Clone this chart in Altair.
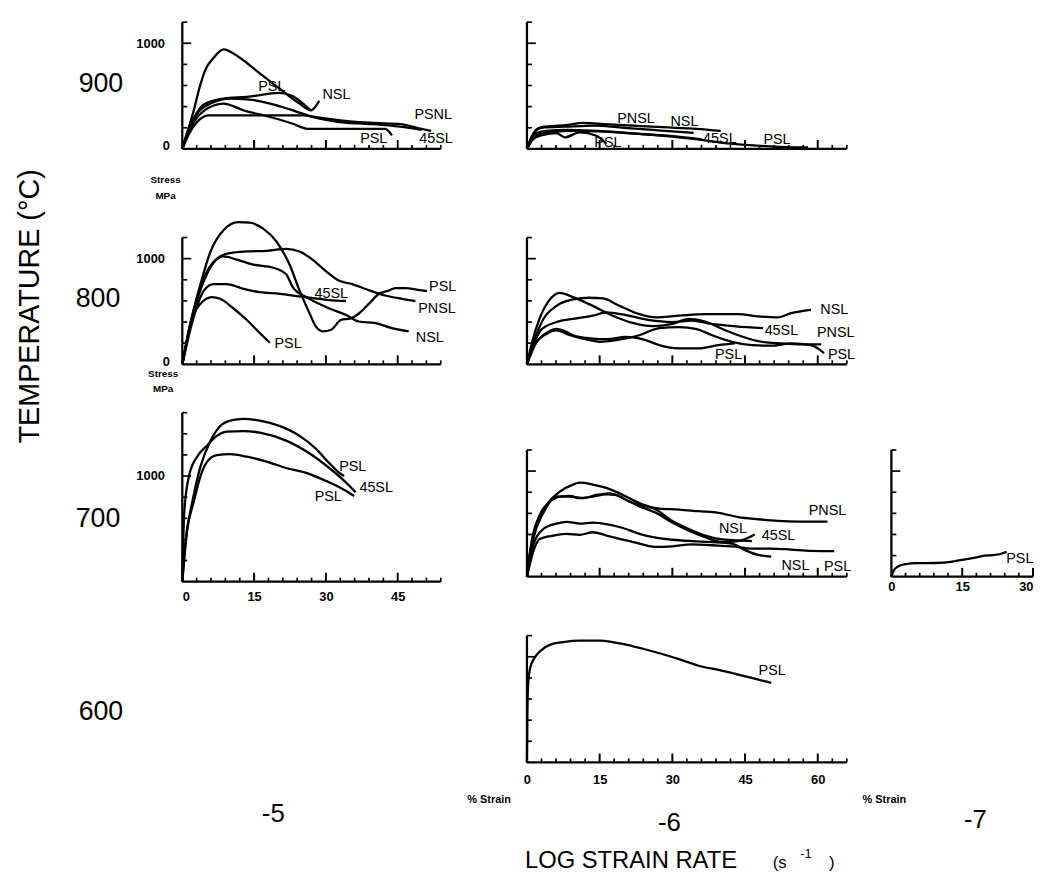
import altair as alt
import pandas as pd

FONT = "Liberation Sans"

# ---------------- data (% strain, stress MPa) ----------------
# 900 C, log strain rate -5
c900_5_nsl_x = [0, 1.2, 2.4, 3.6, 4.8, 6.5, 8.6, 11.7, 16.2, 20.3, 24.5, 26.9, 28.6]
c900_5_nsl_y = [0, 180, 365, 580, 746, 860, 943, 873, 714, 571, 429, 365, 454]
c900_5_psla_x = [0, 1, 2.5, 4.5, 8.6, 13.5, 20.3, 23.1, 25.9, 26.9]
c900_5_psla_y = [0, 150, 300, 420, 476, 492, 530, 498, 403, 365]
c900_5_psnl_x = [0, 1.2, 3.1, 5.9, 10, 14.1, 18.3, 23.1, 27.2, 32.8, 38.3, 43.1, 50]
c900_5_psnl_y = [0, 150, 333, 429, 476, 467, 429, 365, 302, 254, 238, 222, 181]
c900_5_45sl_x = [0, 1.5, 3, 5.4, 10, 18, 25.2, 28, 33, 40, 45.6, 49, 52]
c900_5_45sl_y = [0, 150, 250, 318, 318, 318, 318, 300, 270, 245, 235, 200, 170]
c900_5_pslb_x = [0, 1, 2.5, 4.5, 8.6, 12.8, 18.3, 23.1, 26.2, 34, 42.4, 43.8]
c900_5_pslb_y = [0, 120, 260, 360, 429, 365, 302, 238, 190, 190, 190, 127]
lab900_5_t = ["PSL", "NSL", "PSNL", "PSL", "45SL"]
lab900_5_x = [18.7, 32.2, 52.4, 40.0, 53.0]
lab900_5_y = [590, 514, 324, 95, 90]

# 900 C, log strain rate -6
c900_6_pnsl_x = [0, 1, 2.5, 5, 8, 11.6, 16, 22, 28, 35, 40]
c900_6_pnsl_y = [0, 120, 200, 215, 225, 246, 235, 220, 205, 190, 170]
c900_6_nsl_x = [0, 1.5, 3, 8, 14, 20, 26, 30, 34.4]
c900_6_nsl_y = [0, 150, 200, 210, 220, 200, 180, 165, 152]
c900_6_45sl_x = [0, 2, 5, 10, 15, 22, 30, 36]
c900_6_45sl_y = [0, 130, 160, 170, 165, 145, 120, 91]
c900_6_psla_x = [0, 1, 2.7, 6.1, 7.8, 10.9, 14.3, 16.4]
c900_6_psla_y = [0, 80, 125, 150, 109, 156, 125, 47]
c900_6_pslb_x = [0, 1.5, 4, 8, 12, 18, 24, 30, 36, 40, 46, 52, 58]
c900_6_pslb_y = [0, 140, 170, 180, 175, 160, 140, 115, 85, 60, 35, 20, 15]
lab900_6_t = ["PNSL", "NSL", "45SL", "PSL", "PSL"]
lab900_6_x = [22.5, 32.5, 39.8, 51.6, 16.7]
lab900_6_y = [285, 252, 93, 84, 51]

# 800 C, log strain rate -5
c800_5_psla_x = [0, 1.7, 3.8, 5.9, 8.6, 11.7, 14.1, 16.9, 19.7, 22.4, 24.5, 26.6, 27.9, 29.3, 31.1,
                 33.1, 35.2, 36.9, 39, 41.1, 43.1, 44.5, 46.6, 49.3, 51.1]
c800_5_psla_y = [0, 389, 759, 1068, 1269, 1345, 1340, 1284, 1160, 944, 697, 481, 358, 312, 327,
                 419, 435, 481, 574, 667, 697, 722, 722, 704, 692]
c800_5_pnsl_x = [0, 2.4, 5.2, 7.9, 10, 13.5, 17.6, 21.7, 24.5, 27.2, 30, 32.8, 35.5, 38.3, 42.4, 45.9, 48.7]
c800_5_pnsl_y = [0, 512, 882, 1021, 1053, 1068, 1074, 1093, 1068, 991, 882, 790, 759, 713, 651, 620, 599]
c800_5_nsl_x = [0, 2.4, 5.2, 8.6, 11.4, 14.8, 19, 21.7, 23.1, 25.9, 30, 34.2, 36.9, 40.4, 43.8, 47.3]
c800_5_nsl_y = [0, 500, 860, 1021, 991, 944, 914, 852, 729, 636, 543, 466, 405, 389, 343, 312]
c800_5_45sl_x = [0, 2.4, 4.5, 6.5, 9.3, 12.8, 16.2, 20.4, 24.5, 28.6, 31.4, 34.2]
c800_5_45sl_y = [0, 451, 697, 759, 759, 713, 682, 667, 642, 620, 605, 599]
c800_5_pslb_x = [0, 1.7, 3.8, 6.2, 7.9, 10.7, 13.5, 15.5, 17.6, 18.3]
c800_5_pslb_y = [0, 389, 574, 636, 620, 528, 419, 327, 234, 204]
lab800_5_t = ["PSL", "PNSL", "NSL", "45SL", "PSL"]
lab800_5_x = [54.4, 53.2, 51.7, 31.1, 22.1]
lab800_5_y = [736, 519, 250, 667, 194]

# 800 C, log strain rate -6
c800_6_nsl_x = [0, 1.4, 3.4, 6.1, 9.5, 12.9, 15.7, 19.1, 23.2, 26.6, 31.4, 36.8, 43.6, 47.7, 51.8, 54.5, 58.6]
c800_6_nsl_y = [0, 213, 429, 553, 614, 630, 623, 553, 475, 444, 460, 475, 475, 454, 444, 484, 516]
c800_6_pnsl_x = [0, 1, 2.5, 4.5, 6.8, 9.5, 13.6, 17.7, 21.8, 25.9, 30, 33.4, 36.8, 40.2, 43.6, 47.7,
                 52.5, 57.3, 60.7]
c800_6_pnsl_y = [0, 200, 420, 600, 676, 636, 553, 460, 392, 361, 383, 429, 405, 336, 275, 219,
                 197, 188, 188]
c800_6_45sl_x = [0, 1.5, 3, 6.1, 9.5, 13.6, 16.4, 20, 25, 30, 34, 38, 43, 48.7]
c800_6_45sl_y = [0, 200, 330, 400, 429, 460, 491, 470, 420, 400, 413, 383, 360, 343]
c800_6_psla_x = [0, 2, 4.1, 6.1, 8.9, 12.9, 15, 18.4, 23.2, 27.3, 31.4, 34.8, 38.2, 42.3, 46.4, 50.4,
                 54.5, 58.6, 60, 61.3]
c800_6_psla_y = [0, 213, 290, 321, 275, 228, 213, 228, 275, 343, 352, 336, 275, 213, 182, 176,
                 198, 182, 151, 105]
c800_6_pslb_x = [0, 1.5, 3.4, 6.1, 8.2, 9.5, 13.6, 16.4, 20.4, 24.5, 27.3, 31.4, 35.4, 39.5, 42.9]
c800_6_pslb_y = [0, 180, 275, 336, 306, 275, 244, 238, 259, 228, 182, 151, 151, 182, 198]
lab800_6_t = ["NSL", "45SL", "PNSL", "PSL", "PSL"]
lab800_6_x = [63.4, 52.5, 63.7, 64.9, 41.6]
lab800_6_y = [509, 315, 292, 88, 88]

# 700 C, log strain rate -5
c700_5_psla_x = [0, 0.7, 2.1, 3.8, 5.9, 7.9, 10, 12.8, 16.2, 20.4, 24.5, 27.9, 30.7, 32.8, 33.8]
c700_5_psla_y = [0, 390, 756, 1091, 1335, 1472, 1524, 1542, 1524, 1472, 1380, 1259, 1122, 1030, 1000]
c700_5_45sl_x = [0, 0.4, 1.4, 3.1, 5.2, 7.2, 9.3, 12.8, 16.2, 21.7, 26.6, 30.7, 34.2, 36.2]
c700_5_45sl_y = [0, 650, 1000, 1183, 1289, 1380, 1420, 1426, 1411, 1335, 1213, 1076, 939, 847]
c700_5_pslb_x = [0, 1, 2.4, 3.8, 5.2, 7.2, 10, 13.5, 17.6, 21.7, 25.9, 30, 33.5, 35.9]
c700_5_pslb_y = [0, 482, 756, 1000, 1137, 1198, 1207, 1183, 1137, 1076, 1030, 954, 878, 811]
lab700_5_t = ["PSL", "45SL", "PSL"]
lab700_5_x = [35.6, 40.5, 30.5]
lab700_5_y = [1085, 882, 802]

# 700 C, log strain rate -6
c700_6_nsla_x = [0, 0.7, 2, 4.1, 6.8, 9.5, 10.9, 13.6, 16.4, 19.8, 23.2, 26.6, 30, 33.4, 36.8, 39.5, 43.6, 46.4]
c700_6_nsla_y = [0, 252, 498, 682, 805, 872, 890, 872, 841, 774, 697, 636, 528, 452, 390, 359, 344, 337]
c700_6_pnsl_x = [0, 1, 2.7, 4.8, 6.8, 8.9, 10.9, 13.6, 16.4, 18.4, 21.1, 24.5, 27.3, 31.4, 35.4, 39.5,
                 43.6, 47.7, 51.8, 56, 62]
c700_6_pnsl_y = [0, 344, 590, 712, 759, 765, 743, 759, 780, 774, 712, 666, 645, 636, 620, 605,
                 565, 544, 528, 522, 522]
c700_6_45sl_x = [0, 1.4, 3.4, 6.1, 8.9, 11.6, 14.3, 17, 19.8, 23.2, 26.6, 30, 33.4, 36.8, 40.2, 43.6, 47]
c700_6_45sl_y = [0, 374, 605, 759, 759, 743, 774, 789, 743, 666, 605, 513, 436, 374, 328, 337, 399]
c700_6_nslb_x = [0, 1.4, 3.4, 6.1, 8.2, 10.9, 13.6, 16.4, 19.8, 23.2, 26.6, 30, 34.1, 38.2, 42.3, 45, 47.7, 50.4]
c700_6_nslb_y = [0, 313, 452, 503, 519, 503, 513, 498, 461, 406, 369, 350, 337, 328, 313, 252, 206, 190]
c700_6_psl_x = [0, 1.4, 2.7, 5.5, 8.2, 10.9, 13.6, 16.4, 19.1, 23.2, 26.6, 30, 34.1, 38.2, 42.3, 46.4,
                50.4, 54.5, 58.6, 63.4]
c700_6_psl_y = [0, 252, 359, 390, 406, 397, 421, 390, 359, 313, 282, 288, 307, 298, 288, 267,
                267, 257, 245, 242]
lab700_6_t = ["PNSL", "NSL", "45SL", "NSL", "PSL"]
lab700_6_x = [62.0, 42.5, 51.9, 55.4, 64.1]
lab700_6_y = [620, 450, 381, 104, 95]

# 700 C, log strain rate -7
c700_7_psl_x = [0, 0.5, 1.5, 3.1, 5.2, 9.4, 12.6, 15, 17.1, 19.2, 21.3, 23.1, 24.4]
c700_7_psl_y = [0, 60, 100, 120, 128, 130, 140, 160, 175, 195, 205, 215, 235]
lab700_7_t = ["PSL"]
lab700_7_x = [27.2]
lab700_7_y = [169]

# 600 C, log strain rate -6
c600_6_psl_x = [0, 0.1, 0.3, 0.7, 1.4, 2.7, 4.8, 7.5, 10.9, 15, 17.7, 20.4, 24.5, 28.6, 32, 35.4,
                39.5, 43.6, 47, 50.4]
c600_6_psl_y = [0, 500, 777, 900, 977, 1053, 1115, 1139, 1152, 1152, 1139, 1115, 1069, 1017, 968, 915,
                876, 832, 793, 752]
lab600_6_t = ["PSL"]
lab600_6_x = [50.6]
lab600_6_y = [869]

# axis tick labels
xlab_5 = [0, 15, 30, 45]
xlab_6 = [0, 15, 30, 45, 60]
xlab_7 = [0, 15, 30]
ylab_full = [0, 1000]
ylab_top = [1000]

# ---------------- layout constants ----------------
K = 128 / 1200.0                 # px per MPa
W5, W6, W7 = 261, 323, 143       # axis lengths in px
XM5, XM6, XM7 = 54, 66, 30       # axis lengths in % strain
LEFT6 = 42                       # extra room left of the -6 column axis (px)
XMIN6 = -LEFT6 * XM6 / W6
LW = 2.3


def make_df(curves):
    rows = []
    for cid, (xs, ys) in enumerate(curves):
        for i, (a, b) in enumerate(zip(xs, ys)):
            rows.append({"curve": cid, "i": i, "strain": a, "stress": b})
    return pd.DataFrame(rows)


def note(text, x, y, size, weight="normal", align="center", angle=0, baseline="middle"):
    return dict(text=text, x=x, y=y, size=size, weight=weight, align=align, angle=angle,
                baseline=baseline)


def text_layer(n, X, Y):
    kw = dict(font=FONT, fontSize=n["size"], fontWeight=n["weight"], align=n["align"],
              baseline=n["baseline"], color="black")
    if n["angle"]:
        kw["angle"] = n["angle"]
    df = pd.DataFrame({"t": [n["text"]], "x": [n["x"]], "y": [n["y"]]})
    return alt.Chart(df).mark_text(**kw).encode(x=X("x:Q"), y=Y("y:Q"), text="t:N")


def panel(curves, lt, lx, ly, xmin, xmax, axis_px, h, axis_top=1200, xlabels=None, ylabels=None,
          notes=(), xpad=9, right_last=False):
    ppu = axis_px / xmax                      # px per % strain
    w = round((xmax - xmin) * ppu)
    ymax = h / K
    xs = alt.Scale(domain=[xmin, xmax], nice=False, zero=False)
    ys = alt.Scale(domain=[0, ymax], nice=False, zero=False)
    if xlabels:
        kw = {}
        if right_last:
            kw["labelAlign"] = {"condition": {"test": f"datum.value >= {xmax}", "value": "right"},
                                "value": "center"}
        xax = alt.Axis(values=xlabels, ticks=False, grid=False, title=None, domain=False,
                       labelFont=FONT, labelFontSize=13, labelFontWeight="bold", format="d",
                       labelColor="black", labelPadding=xpad, labelAngle=0, **kw)
    else:
        xax = None
    if ylabels:
        off = -xmin * ppu
        yax = alt.Axis(values=ylabels, ticks=False, domain=False, grid=False, title=None,
                       labelFont=FONT, labelFontSize=13, labelFontWeight="bold", format="d",
                       labelColor="black",
                       labelPadding={"condition": {"test": "datum.value >= 1000", "value": 18 + off},
                                     "value": 13 + off},
                       labelOffset={"condition": {"test": "datum.value == 0", "value": -3},
                                    "value": 0})
    else:
        yax = None

    def X(f):
        return alt.X(f, scale=xs, axis=xax)

    def Y(f):
        return alt.Y(f, scale=ys, axis=yax)

    layers = []
    layers.append(
        alt.Chart(make_df(curves)).mark_line(color="black", strokeWidth=LW, interpolate="monotone")
        .encode(x=X("strain:Q"), y=Y("stress:Q"), detail="curve:N", order="i:Q")
    )
    # axis lines
    layers.append(
        alt.Chart(pd.DataFrame({"a": [0], "b": [axis_top], "x": [0]}))
        .mark_rule(color="black", strokeWidth=2.3)
        .encode(x=X("x:Q"), y=Y("a:Q"), y2="b:Q")
    )
    layers.append(
        alt.Chart(pd.DataFrame({"a": [0], "b": [xmax], "y": [0]}))
        .mark_rule(color="black", strokeWidth=2.3)
        .encode(x=X("a:Q"), x2="b:Q", y=Y("y:Q"))
    )
    # x ticks (inward)
    minor = [v for v in range(3, xmax + 1, 3) if v % 15]
    major = [v for v in range(15, xmax + 1, 15)]
    layers.append(
        alt.Chart(pd.DataFrame({"v": minor})).mark_rule(color="black", strokeWidth=1.7)
        .encode(x=X("v:Q"), y=alt.value(h), y2=alt.value(h - 4))
    )
    layers.append(
        alt.Chart(pd.DataFrame({"v": major})).mark_rule(color="black", strokeWidth=2)
        .encode(x=X("v:Q"), y=alt.value(h), y2=alt.value(h - 9))
    )
    # y ticks (inward)
    yt = [v for v in range(200, axis_top + 1, 200) if v != 1000]
    for vals, ln in ((yt, 5), ([1000], 9)):
        layers.append(
            alt.Chart(pd.DataFrame({"v": vals, "a": 0.0, "b": ln / ppu}))
            .mark_rule(color="black", strokeWidth=1.7)
            .encode(y=Y("v:Q"), x=X("a:Q"), x2="b:Q")
        )
    # curve labels
    layers.append(
        alt.Chart(pd.DataFrame({"t": lt, "x": lx, "y": ly}))
        .mark_text(font=FONT, fontSize=14.5, color="black", align="center", baseline="middle")
        .encode(x=X("x:Q"), y=Y("y:Q"), text="t:N")
    )
    for n in notes:
        layers.append(text_layer(n, X, Y))
    return alt.layer(*layers).properties(width=w, height=h)


def blank(xmin, xmax, axis_px, h, notes):
    ppu = axis_px / xmax
    w = round((xmax - xmin) * ppu)
    xs = alt.Scale(domain=[xmin, xmax], nice=False, zero=False)
    ys = alt.Scale(domain=[0, h / K], nice=False, zero=False)

    def X(f):
        return alt.X(f, scale=xs, axis=None)

    def Y(f):
        return alt.Y(f, scale=ys, axis=None)

    if not notes:
        notes = [note(" ", 0, 0, 10)]
    return alt.layer(*[text_layer(n, X, Y) for n in notes]).properties(width=w, height=h)


H900, H800, H700_5, H700_6, H600 = 128, 170, 172, 167, 135

p900_5 = panel(
    [(c900_5_nsl_x, c900_5_nsl_y), (c900_5_psla_x, c900_5_psla_y), (c900_5_psnl_x, c900_5_psnl_y),
     (c900_5_45sl_x, c900_5_45sl_y), (c900_5_pslb_x, c900_5_pslb_y)],
    lab900_5_t, lab900_5_x, lab900_5_y, 0, XM5, W5, H900, ylabels=ylab_full,
    notes=[note("900", -17.0, 615, 27),
           note("Stress", -3.5, -294, 10, weight="bold"),
           note("MPa", -3.5, -444, 10, weight="bold")])

p900_6 = panel(
    [(c900_6_pnsl_x, c900_6_pnsl_y), (c900_6_nsl_x, c900_6_nsl_y), (c900_6_45sl_x, c900_6_45sl_y),
     (c900_6_psla_x, c900_6_psla_y), (c900_6_pslb_x, c900_6_pslb_y)],
    lab900_6_t, lab900_6_x, lab900_6_y, XMIN6, XM6, W6, H900)

p800_5 = panel(
    [(c800_5_psla_x, c800_5_psla_y), (c800_5_pnsl_x, c800_5_pnsl_y), (c800_5_nsl_x, c800_5_nsl_y),
     (c800_5_45sl_x, c800_5_45sl_y), (c800_5_pslb_x, c800_5_pslb_y)],
    lab800_5_t, lab800_5_x, lab800_5_y, 0, XM5, W5, H800, ylabels=ylab_full,
    notes=[note("800", -17.6, 614, 27),
           note("TEMPERATURE (°C)", -31.9, 548, 29, angle=270),
           note("Stress", -4.0, -89, 10, weight="bold"),
           note("MPa", -4.0, -230, 10, weight="bold")])

p800_6 = panel(
    [(c800_6_nsl_x, c800_6_nsl_y), (c800_6_pnsl_x, c800_6_pnsl_y), (c800_6_45sl_x, c800_6_45sl_y),
     (c800_6_psla_x, c800_6_psla_y), (c800_6_pslb_x, c800_6_pslb_y)],
    lab800_6_t, lab800_6_x, lab800_6_y, XMIN6, XM6, W6, H800)

p700_5 = panel(
    [(c700_5_psla_x, c700_5_psla_y), (c700_5_45sl_x, c700_5_45sl_y), (c700_5_pslb_x, c700_5_pslb_y)],
    lab700_5_t, lab700_5_x, lab700_5_y, 0, XM5, W5, H700_5, axis_top=1600, xlabels=xlab_5,
    ylabels=ylab_top, notes=[note("700", -17.6, 591, 27)], xpad=9)

p700_6 = panel(
    [(c700_6_nsla_x, c700_6_nsla_y), (c700_6_pnsl_x, c700_6_pnsl_y), (c700_6_45sl_x, c700_6_45sl_y),
     (c700_6_nslb_x, c700_6_nslb_y), (c700_6_psl_x, c700_6_psl_y)],
    lab700_6_t, lab700_6_x, lab700_6_y, XMIN6, XM6, W6, H700_6)

p700_7 = panel(
    [(c700_7_psl_x, c700_7_psl_y)],
    lab700_7_t, lab700_7_x, lab700_7_y, 0, XM7, W7, H700_6, xlabels=xlab_7, xpad=4, right_last=True)

p600_6 = panel(
    [(c600_6_psl_x, c600_6_psl_y)],
    lab600_6_t, lab600_6_x, lab600_6_y, XMIN6, XM6, W6, H600, xlabels=xlab_6, xpad=11,
    notes=[note("% Strain", -12.3, -356, 11, weight="bold", align="left"),
           note("-6", 29.4, -577, 26),
           note("LOG STRAIN RATE", -0.4, -935, 24, align="left"),
           note("(s", 50.7, -953, 17, align="left"),
           note("-1", 56.4, -869, 13, align="left"),
           note(")", 62.3, -953, 17, align="left")])

e900_7 = blank(0, XM7, W7, H900, [])
e800_7 = blank(0, XM7, W7, H800, [])
b600_5 = blank(0, XM5, W5, H600, [note("600", -17.0, 481, 27), note("-5", 19.0, -485, 26)])
b600_7 = blank(0, XM7, W7, H600, [note("% Strain", -6.1, -356, 11, weight="bold", align="left"),
                                  note("-7", 17.8, -550, 26)])

chart = (
    alt.concat(
        p900_5, p900_6, e900_7,
        p800_5, p800_6, e800_7,
        p700_5, p700_6, p700_7,
        b600_5, p600_6, b600_7,
        columns=3, spacing={"row": 47.5, "column": 45}, bounds="flush",
    )
    .properties(padding={"left": 7, "top": 8, "right": 0, "bottom": 5})
    .configure_view(stroke=None)
)

chart.save("out.html", embed_options={"renderer": "svg", "actions": False})
